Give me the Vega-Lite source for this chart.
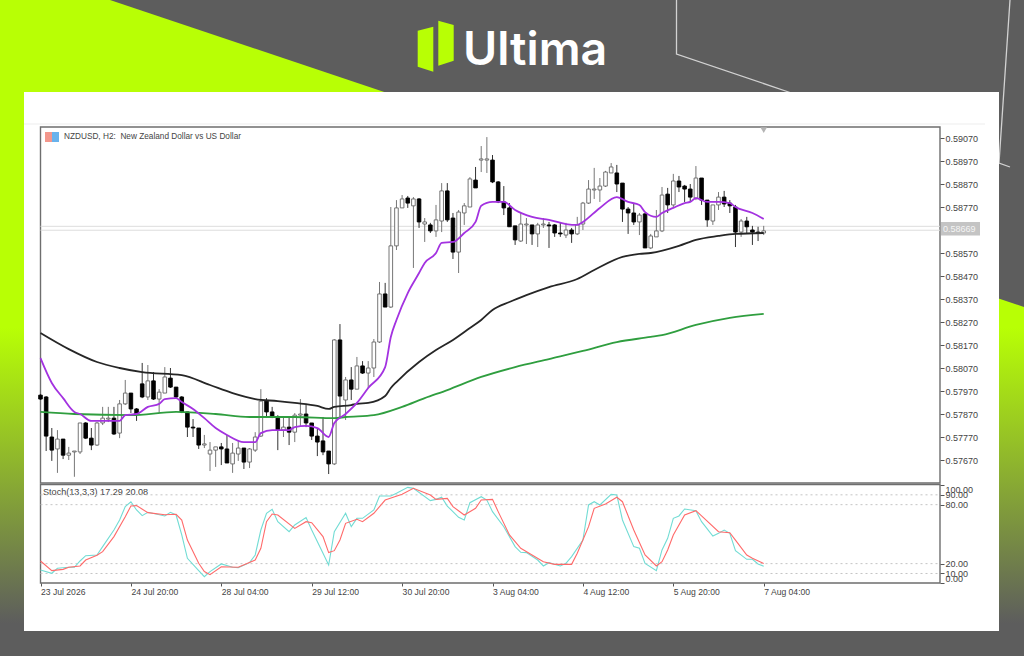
{
  "$schema": "https://vega.github.io/schema/vega-lite/v6.json",
  "width": 1024,
  "height": 656,
  "padding": 0,
  "autosize": {"type": "none"},
  "background": "#5d5d5d",
  "config": {"view": {"stroke": null}, "text": {"font": "Liberation Sans"}, "axis": {"labelFont": "Liberation Sans"}},
  "datasets": {
    "candles": [
      {"bar":0,"open":0.57952,"high":0.57957,"low":0.57931,"close":0.57935},
      {"bar":1,"open":0.57944,"high":0.57948,"low":0.57709,"close":0.57774},
      {"bar":2,"open":0.57770,"high":0.57809,"low":0.57666,"close":0.57713},
      {"bar":3,"open":0.57718,"high":0.57800,"low":0.57614,"close":0.57761},
      {"bar":4,"open":0.57761,"high":0.57761,"low":0.57674,"close":0.57691},
      {"bar":5,"open":0.57691,"high":0.57727,"low":0.57670,"close":0.57700},
      {"bar":6,"open":0.57705,"high":0.57709,"low":0.57597,"close":0.57709},
      {"bar":7,"open":0.57705,"high":0.57831,"low":0.57696,"close":0.57831},
      {"bar":8,"open":0.57831,"high":0.57835,"low":0.57761,"close":0.57765},
      {"bar":9,"open":0.57765,"high":0.57809,"low":0.57713,"close":0.57735},
      {"bar":10,"open":0.57735,"high":0.57835,"low":0.57731,"close":0.57831},
      {"bar":11,"open":0.57831,"high":0.57901,"low":0.57822,"close":0.57852},
      {"bar":12,"open":0.57848,"high":0.57901,"low":0.57835,"close":0.57852},
      {"bar":13,"open":0.57852,"high":0.57901,"low":0.57779,"close":0.57783},
      {"bar":14,"open":0.57787,"high":0.57931,"low":0.57765,"close":0.57914},
      {"bar":15,"open":0.57914,"high":0.58018,"low":0.57909,"close":0.57961},
      {"bar":16,"open":0.57961,"high":0.57961,"low":0.57874,"close":0.57892},
      {"bar":17,"open":0.57892,"high":0.57896,"low":0.57840,"close":0.57870},
      {"bar":18,"open":0.58001,"high":0.58092,"low":0.57939,"close":0.57944},
      {"bar":19,"open":0.57944,"high":0.58083,"low":0.57931,"close":0.58014},
      {"bar":20,"open":0.58014,"high":0.58052,"low":0.57931,"close":0.57935},
      {"bar":21,"open":0.57935,"high":0.57978,"low":0.57874,"close":0.57965},
      {"bar":22,"open":0.57961,"high":0.58074,"low":0.57961,"close":0.58031},
      {"bar":23,"open":0.58026,"high":0.58070,"low":0.57983,"close":0.57987},
      {"bar":24,"open":0.57987,"high":0.57987,"low":0.57939,"close":0.57944},
      {"bar":25,"open":0.57944,"high":0.57948,"low":0.57874,"close":0.57879},
      {"bar":26,"open":0.57879,"high":0.57879,"low":0.57770,"close":0.57813},
      {"bar":27,"open":0.57813,"high":0.57848,"low":0.57770,"close":0.57809},
      {"bar":28,"open":0.57809,"high":0.57809,"low":0.57718,"close":0.57735},
      {"bar":29,"open":0.57735,"high":0.57779,"low":0.57722,"close":0.57740},
      {"bar":30,"open":0.57696,"high":0.57748,"low":0.57622,"close":0.57713},
      {"bar":31,"open":0.57713,"high":0.57727,"low":0.57640,"close":0.57727},
      {"bar":32,"open":0.57727,"high":0.57744,"low":0.57648,"close":0.57718},
      {"bar":33,"open":0.57718,"high":0.57779,"low":0.57657,"close":0.57657},
      {"bar":34,"open":0.57653,"high":0.57744,"low":0.57614,"close":0.57700},
      {"bar":35,"open":0.57696,"high":0.57757,"low":0.57666,"close":0.57722},
      {"bar":36,"open":0.57722,"high":0.57722,"low":0.57631,"close":0.57661},
      {"bar":37,"open":0.57661,"high":0.57722,"low":0.57635,"close":0.57718},
      {"bar":38,"open":0.57713,"high":0.57791,"low":0.57705,"close":0.57770},
      {"bar":39,"open":0.57774,"high":0.57978,"low":0.57770,"close":0.57926},
      {"bar":40,"open":0.57926,"high":0.57939,"low":0.57857,"close":0.57879},
      {"bar":41,"open":0.57879,"high":0.57901,"low":0.57852,"close":0.57857},
      {"bar":42,"open":0.57852,"high":0.57865,"low":0.57713,"close":0.57800},
      {"bar":43,"open":0.57800,"high":0.57857,"low":0.57770,"close":0.57813},
      {"bar":44,"open":0.57813,"high":0.57857,"low":0.57735,"close":0.57791},
      {"bar":45,"open":0.57791,"high":0.57874,"low":0.57748,"close":0.57865},
      {"bar":46,"open":0.57865,"high":0.57935,"low":0.57818,"close":0.57870},
      {"bar":47,"open":0.57870,"high":0.57909,"low":0.57813,"close":0.57831},
      {"bar":48,"open":0.57831,"high":0.57831,"low":0.57757,"close":0.57774},
      {"bar":49,"open":0.57774,"high":0.57809,"low":0.57687,"close":0.57748},
      {"bar":50,"open":0.57753,"high":0.57857,"low":0.57691,"close":0.57705},
      {"bar":51,"open":0.57709,"high":0.57709,"low":0.57609,"close":0.57653},
      {"bar":52,"open":0.57653,"high":0.58196,"low":0.57648,"close":0.58192},
      {"bar":53,"open":0.58192,"high":0.58261,"low":0.57857,"close":0.57948},
      {"bar":54,"open":0.57931,"high":0.58031,"low":0.57844,"close":0.58018},
      {"bar":55,"open":0.58018,"high":0.58074,"low":0.57931,"close":0.57978},
      {"bar":56,"open":0.57978,"high":0.58118,"low":0.57978,"close":0.58079},
      {"bar":57,"open":0.58079,"high":0.58100,"low":0.58044,"close":0.58048},
      {"bar":58,"open":0.58048,"high":0.58100,"low":0.57983,"close":0.58070},
      {"bar":59,"open":0.58070,"high":0.58196,"low":0.58031,"close":0.58183},
      {"bar":60,"open":0.58183,"high":0.58444,"low":0.58179,"close":0.58392},
      {"bar":61,"open":0.58392,"high":0.58440,"low":0.58335,"close":0.58335},
      {"bar":62,"open":0.58335,"high":0.58770,"low":0.58331,"close":0.58601},
      {"bar":63,"open":0.58601,"high":0.58800,"low":0.58583,"close":0.58766},
      {"bar":64,"open":0.58766,"high":0.58822,"low":0.58766,"close":0.58805},
      {"bar":65,"open":0.58809,"high":0.58818,"low":0.58766,"close":0.58787},
      {"bar":66,"open":0.58775,"high":0.58813,"low":0.58505,"close":0.58805},
      {"bar":67,"open":0.58805,"high":0.58809,"low":0.58679,"close":0.58705},
      {"bar":68,"open":0.58696,"high":0.58722,"low":0.58618,"close":0.58705},
      {"bar":69,"open":0.58692,"high":0.58701,"low":0.58657,"close":0.58666},
      {"bar":70,"open":0.58666,"high":0.58779,"low":0.58640,"close":0.58714},
      {"bar":71,"open":0.58709,"high":0.58874,"low":0.58661,"close":0.58840},
      {"bar":72,"open":0.58840,"high":0.58874,"low":0.58705,"close":0.58714},
      {"bar":73,"open":0.58722,"high":0.58744,"low":0.58544,"close":0.58574},
      {"bar":74,"open":0.58574,"high":0.58757,"low":0.58483,"close":0.58748},
      {"bar":75,"open":0.58744,"high":0.58787,"low":0.58692,"close":0.58775},
      {"bar":76,"open":0.58770,"high":0.58900,"low":0.58770,"close":0.58892},
      {"bar":77,"open":0.58887,"high":0.58944,"low":0.58853,"close":0.58853},
      {"bar":78,"open":0.58974,"high":0.59035,"low":0.58922,"close":0.58979},
      {"bar":79,"open":0.58974,"high":0.59074,"low":0.58918,"close":0.58979},
      {"bar":80,"open":0.58974,"high":0.58996,"low":0.58874,"close":0.58879},
      {"bar":81,"open":0.58879,"high":0.58883,"low":0.58787,"close":0.58792},
      {"bar":82,"open":0.58792,"high":0.58861,"low":0.58735,"close":0.58766},
      {"bar":83,"open":0.58766,"high":0.58787,"low":0.58684,"close":0.58684},
      {"bar":84,"open":0.58688,"high":0.58688,"low":0.58605,"close":0.58627},
      {"bar":85,"open":0.58622,"high":0.58744,"low":0.58618,"close":0.58696},
      {"bar":86,"open":0.58692,"high":0.58722,"low":0.58609,"close":0.58696},
      {"bar":87,"open":0.58692,"high":0.58692,"low":0.58605,"close":0.58653},
      {"bar":88,"open":0.58653,"high":0.58701,"low":0.58596,"close":0.58692},
      {"bar":89,"open":0.58692,"high":0.58722,"low":0.58679,"close":0.58696},
      {"bar":90,"open":0.58692,"high":0.58705,"low":0.58592,"close":0.58688},
      {"bar":91,"open":0.58692,"high":0.58696,"low":0.58640,"close":0.58657},
      {"bar":92,"open":0.58657,"high":0.58701,"low":0.58640,"close":0.58653},
      {"bar":93,"open":0.58648,"high":0.58701,"low":0.58635,"close":0.58670},
      {"bar":94,"open":0.58670,"high":0.58679,"low":0.58614,"close":0.58653},
      {"bar":95,"open":0.58653,"high":0.58727,"low":0.58648,"close":0.58692},
      {"bar":96,"open":0.58696,"high":0.58792,"low":0.58670,"close":0.58787},
      {"bar":97,"open":0.58787,"high":0.58887,"low":0.58783,"close":0.58848},
      {"bar":98,"open":0.58844,"high":0.58940,"low":0.58805,"close":0.58848},
      {"bar":99,"open":0.58844,"high":0.58896,"low":0.58792,"close":0.58861},
      {"bar":100,"open":0.58861,"high":0.58927,"low":0.58857,"close":0.58922},
      {"bar":101,"open":0.58918,"high":0.58961,"low":0.58918,"close":0.58944},
      {"bar":102,"open":0.58918,"high":0.58953,"low":0.58835,"close":0.58870},
      {"bar":103,"open":0.58874,"high":0.58874,"low":0.58705,"close":0.58761},
      {"bar":104,"open":0.58761,"high":0.58770,"low":0.58653,"close":0.58744},
      {"bar":105,"open":0.58744,"high":0.58787,"low":0.58692,"close":0.58705},
      {"bar":106,"open":0.58705,"high":0.58744,"low":0.58648,"close":0.58735},
      {"bar":107,"open":0.58740,"high":0.58744,"low":0.58592,"close":0.58592},
      {"bar":108,"open":0.58592,"high":0.58653,"low":0.58587,"close":0.58644},
      {"bar":109,"open":0.58640,"high":0.58757,"low":0.58640,"close":0.58666},
      {"bar":110,"open":0.58666,"high":0.58857,"low":0.58661,"close":0.58822},
      {"bar":111,"open":0.58826,"high":0.58853,"low":0.58744,"close":0.58779},
      {"bar":112,"open":0.58779,"high":0.58914,"low":0.58770,"close":0.58883},
      {"bar":113,"open":0.58883,"high":0.58905,"low":0.58835,"close":0.58857},
      {"bar":114,"open":0.58861,"high":0.58866,"low":0.58792,"close":0.58848},
      {"bar":115,"open":0.58848,"high":0.58870,"low":0.58792,"close":0.58813},
      {"bar":116,"open":0.58809,"high":0.58948,"low":0.58800,"close":0.58896},
      {"bar":117,"open":0.58896,"high":0.58896,"low":0.58779,"close":0.58800},
      {"bar":118,"open":0.58800,"high":0.58800,"low":0.58684,"close":0.58714},
      {"bar":119,"open":0.58709,"high":0.58779,"low":0.58692,"close":0.58779},
      {"bar":120,"open":0.58779,"high":0.58835,"low":0.58757,"close":0.58813},
      {"bar":121,"open":0.58813,"high":0.58840,"low":0.58770,"close":0.58783},
      {"bar":122,"open":0.58787,"high":0.58800,"low":0.58744,"close":0.58775},
      {"bar":123,"open":0.58770,"high":0.58779,"low":0.58596,"close":0.58661},
      {"bar":124,"open":0.58661,"high":0.58718,"low":0.58640,"close":0.58709},
      {"bar":125,"open":0.58709,"high":0.58727,"low":0.58657,"close":0.58684},
      {"bar":126,"open":0.58670,"high":0.58688,"low":0.58605,"close":0.58661},
      {"bar":127,"open":0.58661,"high":0.58684,"low":0.58622,"close":0.58657},
      {"bar":128,"open":0.58657,"high":0.58688,"low":0.58648,"close":0.58666}
    ],
    "maFast": [
      {"bar":0,"price":0.58113},{"bar":2,"price":0.58005},{"bar":4,"price":0.57939},{"bar":6,"price":0.57879},{"bar":7,"price":0.57870},
      {"bar":9,"price":0.57840},{"bar":11,"price":0.57840},{"bar":14,"price":0.57840},{"bar":15,"price":0.57865},{"bar":17,"price":0.57870},
      {"bar":19,"price":0.57901},{"bar":21,"price":0.57914},{"bar":22,"price":0.57935},{"bar":24,"price":0.57939},{"bar":25,"price":0.57922},
      {"bar":27,"price":0.57892},{"bar":29,"price":0.57852},{"bar":31,"price":0.57809},{"bar":33,"price":0.57779},{"bar":36,"price":0.57748},
      {"bar":38,"price":0.57748},{"bar":39,"price":0.57787},{"bar":41,"price":0.57800},{"bar":44,"price":0.57800},{"bar":45,"price":0.57813},
      {"bar":47,"price":0.57818},{"bar":49,"price":0.57809},{"bar":51,"price":0.57770},{"bar":52,"price":0.57831},{"bar":54,"price":0.57870},
      {"bar":56,"price":0.57918},{"bar":58,"price":0.57983},{"bar":61,"price":0.58074},{"bar":62,"price":0.58205},{"bar":63,"price":0.58279},
      {"bar":65,"price":0.58396},{"bar":67,"price":0.58483},{"bar":68,"price":0.58527},{"bar":70,"price":0.58570},{"bar":71,"price":0.58614},
      {"bar":73,"price":0.58618},{"bar":75,"price":0.58657},{"bar":77,"price":0.58705},{"bar":78,"price":0.58775},{"bar":80,"price":0.58792},
      {"bar":82,"price":0.58792},{"bar":84,"price":0.58757},{"bar":87,"price":0.58727},{"bar":90,"price":0.58714},{"bar":93,"price":0.58696},
      {"bar":95,"price":0.58692},{"bar":96,"price":0.58705},{"bar":99,"price":0.58766},{"bar":102,"price":0.58813},{"bar":104,"price":0.58792},
      {"bar":106,"price":0.58779},{"bar":107,"price":0.58748},{"bar":109,"price":0.58727},{"bar":110,"price":0.58744},{"bar":112,"price":0.58766},
      {"bar":114,"price":0.58787},{"bar":115,"price":0.58792},{"bar":116,"price":0.58809},{"bar":118,"price":0.58792},{"bar":120,"price":0.58792},
      {"bar":122,"price":0.58787},{"bar":123,"price":0.58770},{"bar":126,"price":0.58744},{"bar":128,"price":0.58718}
    ],
    "maMid": [
      {"bar":0,"price":0.58222},{"bar":5,"price":0.58152},{"bar":10,"price":0.58096},{"bar":14,"price":0.58070},{"bar":18,"price":0.58052},
      {"bar":25,"price":0.58039},{"bar":30,"price":0.57996},{"bar":34,"price":0.57961},{"bar":38,"price":0.57935},{"bar":42,"price":0.57926},
      {"bar":45,"price":0.57918},{"bar":49,"price":0.57905},{"bar":51,"price":0.57892},{"bar":52,"price":0.57901},{"bar":55,"price":0.57909},
      {"bar":56,"price":0.57914},{"bar":58,"price":0.57918},{"bar":61,"price":0.57948},{"bar":62,"price":0.57983},{"bar":63,"price":0.58009},
      {"bar":67,"price":0.58096},{"bar":70,"price":0.58148},{"bar":73,"price":0.58192},{"bar":76,"price":0.58244},{"bar":78,"price":0.58279},
      {"bar":80,"price":0.58322},{"bar":83,"price":0.58357},{"bar":86,"price":0.58387},{"bar":90,"price":0.58422},{"bar":95,"price":0.58457},
      {"bar":98,"price":0.58496},{"bar":103,"price":0.58553},{"bar":106,"price":0.58566},{"bar":108,"price":0.58570},{"bar":113,"price":0.58601},
      {"bar":116,"price":0.58627},{"bar":120,"price":0.58644},{"bar":123,"price":0.58653},{"bar":128,"price":0.58657}
    ],
    "maSlow": [
      {"bar":0,"price":0.57879},{"bar":6,"price":0.57870},{"bar":16,"price":0.57865},{"bar":24,"price":0.57879},{"bar":31,"price":0.57870},
      {"bar":37,"price":0.57857},{"bar":45,"price":0.57857},{"bar":52,"price":0.57852},{"bar":54,"price":0.57857},{"bar":59,"price":0.57865},
      {"bar":64,"price":0.57901},{"bar":68,"price":0.57939},{"bar":72,"price":0.57974},{"bar":78,"price":0.58031},{"bar":84,"price":0.58074},
      {"bar":90,"price":0.58109},{"bar":96,"price":0.58144},{"bar":102,"price":0.58183},{"bar":108,"price":0.58205},{"bar":110,"price":0.58213},
      {"bar":116,"price":0.58257},{"bar":122,"price":0.58288},{"bar":128,"price":0.58305}
    ],
    "stochK": [
      {"bar":0,"value":13.6},{"bar":2,"value":10.2},{"bar":3,"value":15.3},{"bar":5,"value":16.3},{"bar":6,"value":16.3},{"bar":7,"value":22.7},
      {"bar":8,"value":28.1},{"bar":10,"value":28.8},{"bar":11,"value":37.3},{"bar":13,"value":54.2},{"bar":14,"value":64.4},{"bar":15,"value":78},
      {"bar":16,"value":83},{"bar":17,"value":74.6},{"bar":18,"value":68.8},{"bar":19,"value":72.2},{"bar":22,"value":68.5},{"bar":23,"value":72.2},
      {"bar":24,"value":69.5},{"bar":25,"value":49.2},{"bar":26,"value":25.4},{"bar":28,"value":12.9},{"bar":29,"value":6.8},{"bar":30,"value":11.9},
      {"bar":32,"value":19.7},{"bar":34,"value":16.3},{"bar":35,"value":15.9},{"bar":37,"value":21},{"bar":38,"value":28.8},{"bar":39,"value":54.2},
      {"bar":40,"value":71.2},{"bar":41,"value":75.3},{"bar":42,"value":62.7},{"bar":44,"value":52.5},{"bar":45,"value":59.3},{"bar":47,"value":66.8},
      {"bar":48,"value":54.2},{"bar":50,"value":30.5},{"bar":51,"value":18.6},{"bar":52,"value":52.5},{"bar":54,"value":71.2},{"bar":55,"value":57.6},
      {"bar":56,"value":66.1},{"bar":57,"value":66.1},{"bar":59,"value":74.6},{"bar":60,"value":88.8},{"bar":62,"value":88.8},{"bar":63,"value":91.5},
      {"bar":65,"value":97.6},{"bar":66,"value":96.6},{"bar":69,"value":84.1},{"bar":70,"value":85.4},{"bar":71,"value":87.5},{"bar":72,"value":78.6},
      {"bar":74,"value":67.1},{"bar":75,"value":64.4},{"bar":76,"value":82},{"bar":78,"value":88.1},{"bar":79,"value":84.7},{"bar":80,"value":72.9},
      {"bar":82,"value":57.6},{"bar":84,"value":37.3},{"bar":85,"value":31.5},{"bar":86,"value":31.2},{"bar":88,"value":23.7},{"bar":89,"value":17.6},
      {"bar":90,"value":21},{"bar":92,"value":17.6},{"bar":93,"value":20.3},{"bar":94,"value":27.1},{"bar":96,"value":44},{"bar":97,"value":79.7},
      {"bar":98,"value":83},{"bar":99,"value":79.7},{"bar":101,"value":90.5},{"bar":102,"value":89.8},{"bar":103,"value":64.4},{"bar":105,"value":37.3},
      {"bar":106,"value":35.6},{"bar":107,"value":20.3},{"bar":109,"value":12.9},{"bar":110,"value":33.9},{"bar":111,"value":45.8},{"bar":112,"value":66.1},
      {"bar":113,"value":68.5},{"bar":114,"value":75.6},{"bar":116,"value":73.9},{"bar":117,"value":62.7},{"bar":119,"value":48.1},{"bar":120,"value":50.8},
      {"bar":121,"value":54.2},{"bar":122,"value":50.8},{"bar":123,"value":33.2},{"bar":125,"value":24.4},{"bar":126,"value":24.4},{"bar":127,"value":19.7},
      {"bar":128,"value":17.29}
    ],
    "stochD": [
      {"bar":0,"value":22.7},{"bar":2,"value":12.9},{"bar":4,"value":14.2},{"bar":5,"value":16.3},{"bar":7,"value":17.6},{"bar":8,"value":23.7},
      {"bar":10,"value":28.5},{"bar":11,"value":32.2},{"bar":13,"value":47.5},{"bar":15,"value":67.8},{"bar":16,"value":78.6},{"bar":17,"value":79},
      {"bar":19,"value":71.9},{"bar":22,"value":69.8},{"bar":24,"value":70.2},{"bar":25,"value":64.4},{"bar":26,"value":44},{"bar":28,"value":20.3},
      {"bar":29,"value":11.9},{"bar":30,"value":8.8},{"bar":32,"value":16.9},{"bar":35,"value":16.3},{"bar":38,"value":23.7},{"bar":39,"value":35.6},
      {"bar":40,"value":62.7},{"bar":41,"value":70.5},{"bar":42,"value":69.5},{"bar":45,"value":55.9},{"bar":47,"value":62.7},{"bar":48,"value":61.7},
      {"bar":50,"value":47.5},{"bar":51,"value":31.2},{"bar":52,"value":33.2},{"bar":53,"value":44},{"bar":54,"value":61},{"bar":56,"value":65.1},
      {"bar":57,"value":62.7},{"bar":59,"value":71.2},{"bar":61,"value":84.7},{"bar":64,"value":90.5},{"bar":66,"value":96.6},{"bar":69,"value":89.8},
      {"bar":70,"value":85.4},{"bar":72,"value":86.4},{"bar":73,"value":78},{"bar":75,"value":69.5},{"bar":77,"value":76.3},{"bar":78,"value":84.7},
      {"bar":80,"value":85.4},{"bar":81,"value":72.9},{"bar":83,"value":49.2},{"bar":85,"value":35.6},{"bar":87,"value":28.8},{"bar":89,"value":22},
      {"bar":91,"value":19.3},{"bar":94,"value":19.3},{"bar":95,"value":30.5},{"bar":97,"value":57.6},{"bar":98,"value":76.3},{"bar":100,"value":80.7},
      {"bar":102,"value":87.5},{"bar":103,"value":83},{"bar":105,"value":54.2},{"bar":107,"value":28.8},{"bar":109,"value":17.6},{"bar":110,"value":22},
      {"bar":111,"value":33.9},{"bar":112,"value":49.2},{"bar":114,"value":69.5},{"bar":116,"value":73.9},{"bar":117,"value":68.5},{"bar":120,"value":52.5},
      {"bar":122,"value":51.5},{"bar":123,"value":44},{"bar":125,"value":28.8},{"bar":126,"value":25.4},{"bar":128,"value":20.08}
    ]
  },
  "resolve": {"scale": {"x": "independent", "y": "independent", "color": "independent"}},
  "layer": [
    {
      "encoding": {
        "x": {"field": "x", "type": "quantitative", "axis": null, "scale": {"domain": [0, 1024], "range": [0, 1024], "nice": false, "zero": false}},
        "y": {"field": "y", "type": "quantitative", "axis": null, "scale": {"domain": [0, 656], "range": [0, 656], "nice": false, "zero": false}}
      },
      "layer": [
        {
          "data": {"values": [{"x":0,"y":0,"y2":656},{"x":110,"y":0,"y2":656},{"x":1024,"y":307,"y2":656}]},
          "mark": {"type": "area", "color": {"x1": 0, "y1": 0, "x2": 0, "y2": 1, "gradient": "linear", "stops": [{"offset": 0, "color": "#b8ff05"}, {"offset": 0.5, "color": "#b8ff05"}, {"offset": 0.95, "color": "#5d5d5d"}]}},
          "encoding": {"y2": {"field": "y2"}}
        },
        {
          "data": {"values": [
            {"part":"a","x":676.5,"y":0},{"part":"a","x":676.5,"y":54},{"part":"a","x":790,"y":92.5},
            {"part":"b","x":1010,"y":0},{"part":"b","x":1010,"y":167},{"part":"b","x":999,"y":163}
          ]},
          "mark": {"type": "line", "color": "#d2d2d2", "strokeWidth": 1.3},
          "encoding": {"detail": {"field": "part"}, "order": {"field": "y"}}
        },
        {
          "data": {"values": [
            {"part":"a","x":417.7,"y":30.7,"y2":66.7},{"part":"a","x":433.3,"y":26.7,"y2":71.7},
            {"part":"b","x":438.3,"y":20.7,"y2":65.7},{"part":"b","x":453.7,"y":25,"y2":60.7}
          ]},
          "mark": {"type": "area", "color": "#b8ff05"},
          "encoding": {"detail": {"field": "part"}, "y2": {"field": "y2"}}
        },
        {
          "data": {"values": [{"x":463,"y":65,"label":"Ultima"}]},
          "mark": {"type": "text", "font": "Inter", "fontWeight": 600, "fontSize": 46.5, "color": "white", "align": "left", "baseline": "alphabetic"},
          "encoding": {"text": {"field": "label"}}
        },
        {
          "data": {"values": [
            {"part":"card","x":24,"x2":999,"y":92,"y2":631},
            {"part":"hairline","x":24,"x2":985,"y":123.5,"y2":124.5},
            {"part":"tag","x":941,"x2":980,"y":222,"y2":235.5},
            {"part":"iconL","x":45,"x2":52,"y":132,"y2":142},
            {"part":"iconR","x":52,"x2":59,"y":132,"y2":142}
          ]},
          "mark": {"type": "rect"},
          "encoding": {
            "x2": {"field": "x2"},
            "y2": {"field": "y2"},
            "color": {"field": "part", "type": "nominal", "legend": null, "scale": {"domain": ["card", "hairline", "tag", "iconL", "iconR"], "range": ["#ffffff", "#eeeeee", "#c4c4c4", "#f3978c", "#68b2ec"]}}
          }
        },
        {
          "data": {"values": [
            {"x":40.5,"x2":940,"y":127,"y2":483},
            {"x":40.5,"x2":940,"y":484.5,"y2":583}
          ]},
          "mark": {"type": "rect", "filled": false, "stroke": "#6e6e6e", "strokeWidth": 1.4},
          "encoding": {"x2": {"field": "x2"}, "y2": {"field": "y2"}}
        },
        {
          "data": {"values": [{"x":64,"y":137,"label":"NZDUSD, H2: \u00a0New Zealand Dollar vs US Dollar"}]},
          "mark": {"type": "text", "fontSize": 8.25, "color": "#444444", "align": "left", "baseline": "middle"},
          "encoding": {"text": {"field": "label"}}
        },
        {
          "data": {"values": [{"x":43,"y":492,"label":"Stoch(13,3,3) 17.29 20.08"}]},
          "mark": {"type": "text", "fontSize": 9.1, "color": "#444444", "align": "left", "baseline": "middle"},
          "encoding": {"text": {"field": "label"}}
        },
        {
          "data": {"values": [{"x":943,"y":229,"label":"0.58669"}]},
          "mark": {"type": "text", "fontSize": 9, "color": "#f4f4f4", "align": "left", "baseline": "middle"},
          "encoding": {"text": {"field": "label"}}
        }
      ]
    },
    {
      "encoding": {
        "x": {"field": "bar", "type": "quantitative", "axis": null, "scale": {"domain": [0, 159.2], "range": [40.5, 940], "nice": false, "zero": false, "padding": 0}},
        "y": {
          "type": "quantitative",
          "scale": {"domain": [0.5767, 0.5907], "range": [460, 138], "nice": false, "zero": false},
          "axis": {"orient": "right", "offset": -84, "title": null, "domain": false, "grid": false, "zindex": 1, "format": ".5f", "values": [0.5907, 0.5897, 0.5887, 0.5877, 0.5857, 0.5847, 0.5837, 0.5827, 0.5817, 0.5807, 0.5797, 0.5787, 0.5777, 0.5767], "tickSize": 4, "tickColor": "#555555", "labelFontSize": 9, "labelColor": "#444444", "labelPadding": 1, "labelOverlap": false, "labelBound": false}
        }
      },
      "layer": [
        {
          "data": {"values": [{"bar":0,"end":159.2,"price":0.58669},{"bar":0,"end":159.2,"price":0.58686}]},
          "mark": {"type": "rule", "color": "#dddddd", "strokeWidth": 1},
          "encoding": {"x2": {"field": "end"}, "y": {"field": "price"}}
        },
        {
          "data": {"name": "candles"},
          "mark": {"type": "rule", "strokeWidth": 1},
          "encoding": {
            "y": {"field": "low"},
            "y2": {"field": "high"},
            "color": {"condition": {"test": "datum.close > datum.open", "value": "#777777"}, "value": "#333333"}
          }
        },
        {
          "data": {"name": "candles"},
          "mark": {"type": "bar", "size": 3.6, "strokeWidth": 0.9},
          "encoding": {
            "y": {"field": "open"},
            "y2": {"field": "close"},
            "fill": {"condition": {"test": "datum.close > datum.open", "value": "#ffffff"}, "value": "#000000"},
            "stroke": {"condition": {"test": "datum.close > datum.open", "value": "#666666"}, "value": "#000000"}
          }
        },
        {
          "data": {"name": "maSlow"},
          "mark": {"type": "line", "color": "#2f9e3f", "strokeWidth": 1.8, "interpolate": "monotone"},
          "encoding": {"y": {"field": "price"}}
        },
        {
          "data": {"name": "maMid"},
          "mark": {"type": "line", "color": "#262626", "strokeWidth": 1.8, "interpolate": "monotone"},
          "encoding": {"y": {"field": "price"}}
        },
        {
          "data": {"name": "maFast"},
          "mark": {"type": "line", "color": "#a332e0", "strokeWidth": 1.8, "interpolate": "monotone"},
          "encoding": {"y": {"field": "price"}}
        },
        {
          "data": {"values": [{"bar":128,"price":0.59104}]},
          "mark": {"type": "point", "shape": "triangle-down", "filled": true, "size": 45, "color": "#b4b4b4", "opacity": 1},
          "encoding": {"y": {"field": "price"}}
        }
      ]
    },
    {
      "encoding": {
        "x": {
          "field": "bar",
          "type": "quantitative",
          "scale": {"domain": [0, 159.2], "range": [40.5, 940], "nice": false, "zero": false},
          "axis": {"orient": "bottom", "offset": -73, "title": null, "domain": false, "grid": false, "zindex": 1, "values": [0, 16, 32, 48, 64, 80, 96, 112, 128], "labelExpr": "['23 Jul 2026','24 Jul 20:00','28 Jul 04:00','29 Jul 12:00','30 Jul 20:00','3 Aug 04:00','4 Aug 12:00','5 Aug 20:00','7 Aug 04:00'][datum.value / 16]", "labelAlign": "left", "labelFontSize": 8.6, "labelColor": "#444444", "labelPadding": 1, "labelOverlap": false, "labelBound": false, "labelFlush": false, "tickSize": 3, "tickColor": "#555555"}
        },
        "y": {
          "type": "quantitative",
          "scale": {"domain": [0, 100], "range": [583.3, 485], "nice": false, "zero": false},
          "axis": {"orient": "right", "offset": -84, "title": null, "domain": false, "grid": false, "zindex": 1, "format": ".2f", "values": [0, 10, 20, 80, 90, 100], "tickSize": 4, "tickColor": "#555555", "labelFontSize": 9, "labelColor": "#444444", "labelPadding": 1, "labelOverlap": false, "labelBound": false, "labelFlush": true}
        }
      },
      "layer": [
        {
          "data": {"values": [{"bar":0,"end":159.2,"level":10},{"bar":0,"end":159.2,"level":20},{"bar":0,"end":159.2,"level":80},{"bar":0,"end":159.2,"level":90}]},
          "mark": {"type": "rule", "color": "#c4c4c4", "strokeWidth": 1, "strokeDash": [2, 3]},
          "encoding": {"x2": {"field": "end"}, "y": {"field": "level"}}
        },
        {
          "data": {"name": "stochK"},
          "mark": {"type": "line", "color": "#72dcd4", "strokeWidth": 1.1},
          "encoding": {"y": {"field": "value"}}
        },
        {
          "data": {"name": "stochD"},
          "mark": {"type": "line", "color": "#ff6a6a", "strokeWidth": 1.1},
          "encoding": {"y": {"field": "value"}}
        }
      ]
    }
  ]
}
